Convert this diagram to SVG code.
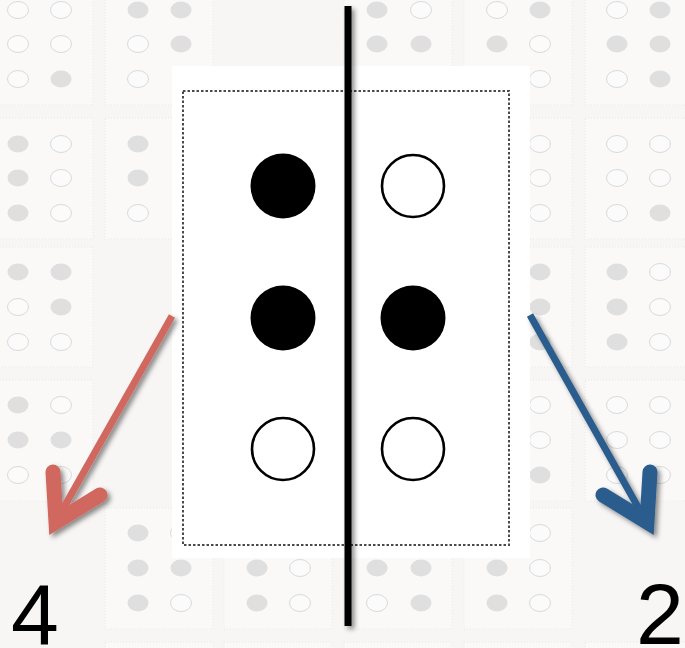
<svg xmlns="http://www.w3.org/2000/svg" xmlns:xlink="http://www.w3.org/1999/xlink" width="685" height="648" viewBox="0 0 685 648">
<style>
.bg{fill:#f7f6f4}
.cb{fill:#faf9f8;stroke:#e8e8e8;stroke-width:1;stroke-dasharray:1 2}
.df{fill:#dfdfdf}
.do{fill:#fbfbfb;stroke:#dadada;stroke-width:1}
.box{fill:#ffffff}
.frame{fill:none;stroke:#4a4a4a;stroke-width:2;stroke-dasharray:2.5 2}
.bf{fill:#000000}
.bo{fill:#ffffff;stroke:#000000;stroke-width:2.6}
.num{font-family:"Liberation Sans",Arial,sans-serif;font-size:86px;fill:#000000}
.red{stroke:#D0675F;fill:none}
.blue{stroke:#2B5D8E;fill:none}
.shaft{stroke-width:7}
.head{stroke-width:15;stroke-linecap:round;stroke-linejoin:miter}
</style>
<defs>
<filter id="sh" filterUnits="userSpaceOnUse" x="0" y="0" width="685" height="648">
<feDropShadow dx="3" dy="3" stdDeviation="2.5" flood-color="#000" flood-opacity="0.45"/>
</filter>
<ellipse id="f" rx="10.5" ry="8.5" class="df"/>
<ellipse id="o" rx="10.5" ry="8.5" class="do"/>
</defs>
<rect class="bg" x="0" y="0" width="685" height="648"/>
<g id="background-braille">
<rect class="cb" x="-15" y="-16" width="108" height="121"/>
<rect class="cb" x="105" y="-16" width="108" height="121"/>
<rect class="cb" x="344" y="-16" width="108" height="121"/>
<rect class="cb" x="464" y="-16" width="108" height="121"/>
<rect class="cb" x="585" y="-16" width="108" height="121"/>
<rect class="cb" x="-15" y="118" width="108" height="121"/>
<rect class="cb" x="105" y="118" width="108" height="121"/>
<rect class="cb" x="464" y="118" width="108" height="121"/>
<rect class="cb" x="585" y="118" width="108" height="121"/>
<rect class="cb" x="-15" y="247" width="108" height="120"/>
<rect class="cb" x="464" y="247" width="108" height="120"/>
<rect class="cb" x="585" y="247" width="108" height="120"/>
<rect class="cb" x="-15" y="380" width="108" height="121"/>
<rect class="cb" x="464" y="380" width="108" height="121"/>
<rect class="cb" x="585" y="380" width="108" height="121"/>
<rect class="cb" x="105" y="508" width="108" height="121"/>
<rect class="cb" x="224" y="508" width="108" height="121"/>
<rect class="cb" x="344" y="508" width="108" height="121"/>
<rect class="cb" x="464" y="508" width="108" height="121"/>
<rect class="cb" x="105" y="642" width="108" height="121"/>
<rect class="cb" x="224" y="642" width="108" height="121"/>
<rect class="cb" x="344" y="642" width="108" height="121"/>
<rect class="cb" x="464" y="642" width="108" height="121"/>
<rect class="cb" x="585" y="642" width="108" height="121"/>

<use href="#o" x="18" y="10"/><use href="#o" x="18" y="44"/><use href="#o" x="18" y="79"/>
<use href="#o" x="61" y="10"/><use href="#o" x="61" y="44"/><use href="#f" x="61" y="79"/>
<use href="#f" x="138" y="10"/><use href="#o" x="138" y="44"/><use href="#o" x="138" y="79"/>
<use href="#f" x="181" y="10"/><use href="#f" x="181" y="44"/>
<use href="#f" x="377" y="10"/><use href="#f" x="377" y="44"/>
<use href="#o" x="421" y="10"/><use href="#f" x="421" y="44"/>
<use href="#o" x="497" y="10"/><use href="#f" x="497" y="44"/>
<use href="#f" x="540" y="10"/><use href="#o" x="540" y="44"/><use href="#o" x="540" y="79"/>
<use href="#o" x="617" y="10"/><use href="#f" x="617" y="44"/><use href="#o" x="617" y="79"/>
<use href="#f" x="660" y="10"/><use href="#f" x="660" y="44"/><use href="#f" x="660" y="79"/>

<use href="#f" x="18" y="144"/><use href="#f" x="18" y="178"/><use href="#f" x="18" y="213"/>
<use href="#o" x="61" y="144"/><use href="#o" x="61" y="178"/><use href="#o" x="61" y="213"/>
<use href="#f" x="138" y="144"/><use href="#f" x="138" y="178"/><use href="#o" x="138" y="213"/>
<use href="#o" x="540" y="144"/><use href="#o" x="540" y="178"/><use href="#o" x="540" y="213"/>
<use href="#o" x="617" y="144"/><use href="#o" x="617" y="178"/><use href="#o" x="617" y="213"/>
<use href="#o" x="660" y="144"/><use href="#o" x="660" y="178"/><use href="#f" x="660" y="213"/>

<use href="#f" x="18" y="272"/><use href="#o" x="18" y="307"/><use href="#o" x="18" y="342"/>
<use href="#f" x="61" y="272"/><use href="#f" x="61" y="307"/><use href="#o" x="61" y="342"/>
<use href="#f" x="540" y="272"/><use href="#f" x="540" y="307"/><use href="#f" x="540" y="342"/>
<use href="#f" x="617" y="272"/><use href="#f" x="617" y="307"/><use href="#f" x="617" y="342"/>
<use href="#o" x="660" y="272"/><use href="#o" x="660" y="307"/><use href="#o" x="660" y="342"/>

<use href="#f" x="18" y="405"/><use href="#f" x="18" y="440"/><use href="#o" x="18" y="475"/>
<use href="#o" x="61" y="405"/><use href="#f" x="61" y="440"/><use href="#o" x="61" y="475"/>
<use href="#o" x="540" y="405"/><use href="#o" x="540" y="440"/><use href="#f" x="540" y="475"/>
<use href="#o" x="617" y="405"/><use href="#o" x="617" y="440"/><use href="#o" x="617" y="475"/>
<use href="#o" x="660" y="405"/><use href="#o" x="660" y="440"/><use href="#o" x="660" y="475"/>

<use href="#f" x="138" y="533"/><use href="#f" x="138" y="568"/><use href="#f" x="138" y="603"/>
<use href="#o" x="181" y="533"/><use href="#f" x="181" y="568"/><use href="#o" x="181" y="603"/>
<use href="#f" x="257" y="568"/><use href="#f" x="257" y="603"/>
<use href="#o" x="300" y="568"/><use href="#o" x="300" y="603"/>
<use href="#f" x="377" y="568"/><use href="#o" x="377" y="603"/>
<use href="#f" x="421" y="568"/><use href="#f" x="421" y="603"/>
<use href="#f" x="497" y="568"/><use href="#f" x="497" y="603"/>
<use href="#o" x="540" y="533"/><use href="#o" x="540" y="568"/><use href="#o" x="540" y="603"/>
</g>

<g id="braille-cell">
<rect class="box" x="172" y="66" width="358" height="492"/>
<rect class="frame" x="183" y="91" width="326" height="454"/>
<circle class="bf" cx="283" cy="186" r="32.5"/>
<circle class="bo" cx="413" cy="186" r="31"/>
<circle class="bf" cx="283" cy="318" r="32.5"/>
<circle class="bf" cx="413" cy="318" r="32.5"/>
<circle class="bo" cx="283" cy="449" r="31"/>
<circle class="bo" cx="413" cy="449" r="31"/>
</g>

<g id="divider" filter="url(#sh)">
<rect x="344.5" y="6" width="7" height="620" fill="#000"/>
</g>

<g id="connectors">
<g id="arrow-left" filter="url(#sh)">
<line class="red shaft" x1="172" y1="316" x2="59" y2="516"/>
<path class="red head" d="M53,472 L56,522 L100,495"/>
</g>
<g id="arrow-right" filter="url(#sh)">
<line class="blue shaft" x1="530" y1="315" x2="643" y2="516"/>
<path class="blue head" d="M650,472 L647,522 L603,495"/>
</g>
</g>

<g id="label-4"><text class="num" x="11" y="644">4</text></g>
<g id="label-2"><text class="num" x="636" y="644">2</text></g>
</svg>
